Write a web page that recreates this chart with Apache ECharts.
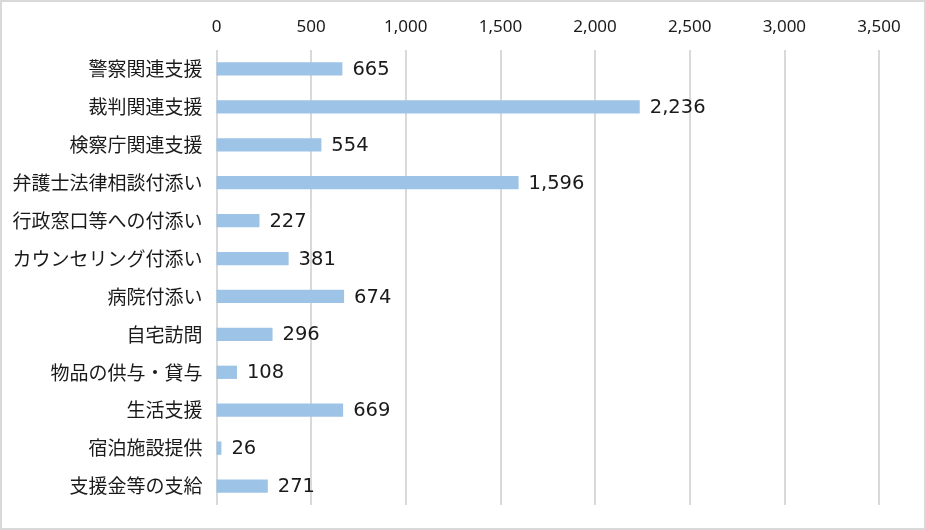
<!DOCTYPE html>
<html><head><meta charset="utf-8">
<script src="https://cdn.jsdelivr.net/npm/echarts@6/dist/echarts.min.js"></script>
<style>html,body{margin:0;padding:0;background:#fff}#c{width:926px;height:530px}</style>
</head><body><div id="c"></div>
<script>
const categories = ['警察関連支援','裁判関連支援','検察庁関連支援','弁護士法律相談付添い','行政窓口等への付添い','カウンセリング付添い','病院付添い','自宅訪問','物品の供与・貸与','生活支援','宿泊施設提供','支援金等の支給'];
const values = [665, 2236, 554, 1596, 227, 381, 674, 296, 108, 669, 26, 271];
const axisMin = 0, axisMax = 3500, axisStep = 500;

const chart = echarts.init(document.getElementById('c'), null, {renderer:'canvas'});
chart.setOption({
  animation: false,
  backgroundColor: '#fff',
  graphic: [{type:'rect', shape:{x:1, y:1, width:924, height:528}, style:{fill:'none', stroke:'#d9d9d9', lineWidth:2}, silent:true}],
  grid: {left: 216.5, right: 47, top: 50, bottom: 25, containLabel: false},
  xAxis: {
    type: 'value', position: 'top', min: axisMin, max: axisMax, interval: axisStep,
    axisLine: {show:false}, axisTick: {show:false},
    axisLabel: {margin: 14, color:'#1a1a1a', fontSize: 17, fontFamily: '"Noto Sans", sans-serif',
      formatter: v => v.toLocaleString('en-US')},
    splitLine: {show:true, lineStyle:{color:'#d9d9d9', width:2}}
  },
  yAxis: {
    type: 'category', data: categories, inverse: true,
    axisLine: {show:false}, axisTick: {show:false},
    axisLabel: {margin: 14, color:'#1a1a1a', fontSize: 19, fontFamily: '"Noto Sans CJK JP", sans-serif'}
  },
  series: [{
    type: 'bar', data: values, barWidth: '35%',
    itemStyle: {color: '#9dc3e6'},
    label: {show: true, position: 'right', distance: 10, color: '#1a1a1a', fontSize: 19.5,
      fontFamily: '"DejaVu Sans", sans-serif', offset: [0, 1],
      formatter: p => p.value.toLocaleString('en-US')}
  }]
});
</script></body></html>
